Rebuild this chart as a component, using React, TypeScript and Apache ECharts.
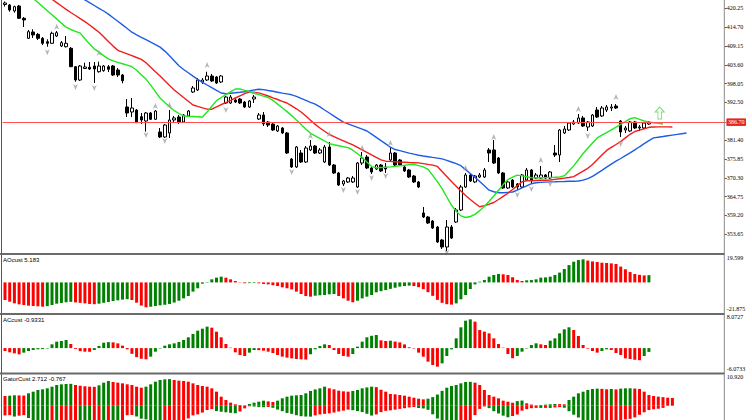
import React, { useEffect, useRef } from "react";
import * as echarts from "echarts";

// ---------- price data ----------
const opens = [421.37,421.23,419.46,420.93,417.31,411.41,413.27,412.59,411.41,410.41,409.94,412.09,409.14,408.94,408.47,403.04,399.12,402.51,402.87,403.25,401.57,401.87,403.04,403.25,402.07,400.60,391.17,389.69,390.28,388.31,387.04,389.40,387.54,383.80,382.33,383.51,387.34,388.22,386.75,388.52,395.59,396.18,398.53,399.12,400.30,400.01,398.53,392.35,392.35,393.23,393.52,392.64,391.17,393.52,387.63,388.81,386.75,386.16,384.10,384.98,383.51,375.84,373.49,377.61,374.96,378.50,379.67,377.61,374.96,379.38,374.07,371.72,368.48,369.07,369.07,367.59,374.66,376.43,373.19,372.90,374.07,373.49,375.55,377.61,375.55,373.49,372.60,370.83,369.07,359.93,358.75,357.57,355.80,351.97,349.91,355.80,357.28,360.81,367.59,371.13,369.07,370.54,370.54,378.50,378.50,376.14,371.72,367.30,369.65,368.48,367.59,369.65,372.60,370.24,370.24,371.13,370.24,377.61,377.02,383.51,384.39,386.16,386.45,387.93,385.27,385.57,390.28,388.52,390.28,390.87,391.46,387.04,384.39,384.10,386.75,384.98,384.98,386.16];
const closes = [421.82,419.75,420.73,417.31,416.81,413.36,412.39,411.41,409.94,409.94,412.89,413.06,410.12,409.94,403.04,399.12,403.25,402.96,402.37,402.37,403.25,403.25,402.28,400.60,400.60,398.92,389.40,390.87,386.54,387.34,389.40,387.54,389.99,382.33,385.86,387.34,387.93,386.75,388.81,389.99,396.77,399.12,399.12,400.30,398.83,398.24,400.30,394.11,394.11,392.64,392.35,391.17,392.94,394.11,388.81,386.16,385.86,384.39,385.57,383.51,377.61,373.49,379.38,374.96,379.08,379.67,377.61,378.50,379.38,374.07,371.72,368.18,369.36,370.24,370.24,374.66,376.14,373.19,372.01,374.07,372.31,372.90,377.61,374.07,374.07,372.31,370.54,369.07,367.59,358.75,356.98,355.51,351.38,349.91,355.80,352.56,360.81,367.59,371.13,369.36,370.83,371.13,372.60,377.61,374.66,371.72,367.30,369.07,367.59,367.59,371.13,372.60,369.65,371.13,371.13,370.24,372.01,377.02,384.39,384.68,386.45,386.75,387.93,385.57,386.75,388.81,388.22,390.87,391.17,391.17,390.87,383.80,384.98,386.75,384.98,385.27,386.45,386.70];
const lows = [420.78,419.25,418.96,417.10,414.74,411.21,411.50,410.91,409.44,408.94,409.73,411.80,408.85,408.70,402.96,398.62,398.83,402.37,402.07,398.24,401.28,401.57,401.48,400.30,400.01,398.15,388.22,388.22,386.45,386.16,383.89,387.34,387.34,382.03,382.03,382.03,386.75,386.16,386.45,388.22,395.29,395.88,397.95,398.83,398.53,397.95,398.24,392.05,392.05,392.35,392.05,390.87,390.87,392.35,387.34,385.57,385.27,384.10,383.80,383.21,377.32,373.19,373.19,374.66,374.66,378.20,377.32,377.32,374.66,373.78,371.42,367.89,367.89,368.77,368.77,367.30,374.07,372.90,371.42,372.60,372.01,371.72,375.26,373.78,373.78,372.01,370.24,368.77,367.30,358.46,356.69,355.21,351.09,349.32,348.73,352.27,356.98,360.52,367.30,369.07,368.77,370.24,370.24,374.96,374.37,371.42,367.00,367.00,367.30,366.71,367.30,369.36,368.48,369.95,369.95,369.95,369.95,376.43,374.96,383.21,384.10,385.86,386.16,385.27,384.10,385.27,387.93,388.22,389.69,389.99,390.58,382.33,383.51,383.80,384.68,384.10,384.68,385.86];
const highs = [422.26,421.52,421.02,421.23,417.69,413.86,414.07,412.97,411.80,411.12,413.36,413.56,410.62,412.09,408.85,403.25,403.54,404.22,404.43,404.43,404.52,403.54,403.54,403.54,402.66,400.89,393.52,393.82,390.58,389.40,389.69,389.69,390.28,384.98,386.16,390.28,388.52,388.81,389.10,390.28,397.36,399.71,399.71,401.57,400.89,400.30,400.60,394.41,394.70,393.82,393.82,392.94,393.23,394.70,389.40,389.69,387.04,386.45,385.86,385.27,383.80,376.14,379.67,378.50,379.67,381.44,379.97,379.08,379.97,380.85,374.37,372.01,369.65,370.54,370.83,374.96,377.91,377.02,373.78,374.37,374.37,374.66,379.38,377.91,375.84,373.78,372.90,371.13,369.36,361.70,359.05,357.87,356.10,352.27,357.87,356.39,361.40,368.18,371.72,371.42,371.13,371.72,373.19,379.08,381.44,376.43,372.01,369.36,369.95,368.77,371.42,373.19,372.90,371.72,373.78,371.42,372.31,379.97,384.68,385.57,386.75,387.34,389.10,388.52,387.04,389.10,391.17,391.46,391.76,392.05,392.05,387.34,385.57,387.04,387.04,385.86,386.75,387.04];

// Alligator lines (as drawn, already shifted forward)
const jaw = [435.96,435.19,434.40,433.63,432.84,432.07,431.28,430.51,429.71,428.95,428.18,427.39,426.62,425.82,425.06,424.26,423.50,422.73,421.90,421.08,420.25,419.46,418.54,417.48,416.42,415.36,414.30,413.21,412.42,411.71,411.00,410.26,409.56,408.82,407.64,406.29,404.78,403.31,402.22,401.25,400.27,399.30,398.42,397.65,396.85,396.09,395.29,395.09,395.23,395.35,395.50,395.68,395.91,396.18,396.41,396.30,396.03,395.79,395.53,395.26,395.03,394.76,394.29,393.70,393.14,392.55,391.99,391.20,390.28,389.40,388.49,387.57,386.69,386.19,385.66,385.16,384.63,384.09,383.15,382.21,381.24,380.29,379.32,378.64,378.29,377.94,377.58,377.26,376.96,376.73,376.52,376.31,376.11,375.87,375.46,374.96,374.46,373.87,372.72,371.57,370.42,369.21,367.94,366.65,366.18,365.91,365.88,366.00,366.12,366.68,367.30,367.94,368.56,368.83,368.95,369.04,369.10,369.13,369.18,369.21,369.27,369.30,369.36,369.62,370.04,370.72,371.63,372.51,373.43,374.34,375.19,375.99,376.82,377.64,378.52,379.44,380.35,381.24,382.06,382.27,382.47,382.68,382.89,383.09,383.30,383.50];
const teeth = [432.72,431.75,430.75,429.77,428.80,427.80,426.83,425.85,424.88,423.88,422.91,421.93,420.93,419.93,419.02,418.13,417.22,416.33,415.33,414.27,413.21,411.88,410.50,409.11,407.88,407.35,406.82,406.29,405.75,405.22,404.19,402.90,401.57,400.27,398.89,397.50,396.18,395.09,393.97,392.88,391.76,391.34,390.93,390.55,390.52,391.17,391.85,392.49,393.14,393.82,394.47,395.12,395.56,395.44,395.32,394.91,394.41,393.88,393.38,392.85,392.35,391.49,390.64,389.69,388.49,387.25,386.04,384.98,384.01,383.06,382.41,381.80,381.21,380.59,380.00,379.26,378.55,377.82,377.05,376.31,375.58,375.20,375.14,375.05,374.96,374.90,374.81,374.75,374.69,374.49,374.25,374.02,373.66,372.16,370.68,369.21,367.83,366.44,365.06,363.91,362.82,361.76,362.11,362.52,363.02,363.91,364.82,365.74,366.85,368.00,369.12,369.39,369.45,369.51,369.57,369.60,369.65,369.83,370.01,370.21,370.39,370.66,371.48,372.28,373.10,374.22,375.61,376.99,378.38,379.26,380.12,381.00,382.06,383.12,383.95,384.36,384.74,385.18,385.27,385.30,385.32,385.30,385.27];
const lips = [430.36,429.15,427.97,426.77,425.56,424.35,423.17,421.96,420.75,419.55,418.34,417.13,415.89,414.68,414.01,413.48,412.95,411.30,409.70,408.29,407.32,406.31,405.34,404.75,404.31,403.90,403.49,403.04,401.98,400.69,399.39,397.62,395.71,393.79,392.49,391.23,390.08,389.25,388.51,388.43,388.37,388.31,388.22,389.69,391.37,393.05,393.97,394.79,395.65,396.47,396.50,396.06,395.65,395.23,394.82,394.38,393.97,393.14,392.02,390.93,389.81,388.63,387.31,386.01,384.68,383.42,382.65,381.91,381.15,380.38,380.03,379.76,379.47,379.20,378.44,377.38,376.31,374.99,373.60,373.25,373.34,373.40,373.51,373.66,373.84,374.01,374.19,374.28,373.90,373.51,372.81,371.01,369.18,367.09,364.64,362.20,360.46,359.08,358.60,358.90,359.52,360.64,361.84,363.38,364.94,366.62,368.30,369.77,370.48,371.10,370.86,370.60,370.33,370.27,370.33,370.36,370.42,370.45,370.51,370.92,372.31,373.81,375.61,377.46,379.00,380.56,382.06,382.86,383.62,384.42,385.21,386.04,386.86,387.72,388.04,387.54,387.04,386.69,386.51,386.33,386.16];

// Fractal arrows
const fractalUpIdx = [11,20,32,35,43,53,65,69,76,82,98,104,114,122,130];
const fractalUpVal = [414.83,407.08,391.46,391.76,403.54,395.59,382.62,383.21,379.08,380.56,373.19,382.33,375.55,390.58,394.11];
const fractalDnIdx = [9,15,19,30,34,47,61,72,75,78,81,94,109,112,116,124,131];
const fractalDnVal = [407.29,397.06,396.77,382.92,381.15,390.28,372.01,366.71,366.12,370.24,370.83,348.29,365.23,367.00,368.48,382.62,380.26];
const signalIdx = [139];
const signalVal = [389.4];
const priceLine = 386.7;

const priceTicks = ["353.65","359.20","364.75","370.30","375.85","381.40","392.50","398.05","403.60","409.15","414.70","420.25"];

// Indicators
const aoValues = [-12.58,-13.77,-14.96,-15.67,-16.15,-16.63,-16.87,-17.1,-17.35,-17.0,-16.15,-15.2,-14.7,-14.2,-13.9,-14.3,-14.6,-15.0,-15.4,-15.6,-15.2,-14.6,-14.0,-13.3,-12.8,-12.3,-12.0,-12.6,-14.5,-16.6,-17.8,-17.4,-16.9,-16.4,-16.0,-15.4,-14.4,-13.1,-11.4,-9.7,-6.6,-4.2,-0.9,0.3,2.2,3.4,4.1,3.4,2.2,1.0,0.2,-0.6,-0.5,-0.4,-0.6,-1.1,-1.4,-2.0,-2.6,-3.5,-4.2,-5.0,-6.6,-8.3,-9.7,-10.2,-9.5,-9.2,-9.0,-8.5,-8.3,-9.7,-11.4,-13.1,-14.2,-13.1,-11.4,-10.2,-9.0,
  -7.1,-6.3,-5.5,-4.6,-3.8,-3.0,-2.6,-2.3,-2.6,-3.4,-4.8,-7.0,-9.6,-12.5,-14.6,-15.6,-15.9,-15.0,-12.1,-9.0,-4.7,-1.4,0.5,1.7,4.1,5.3,6.0,5.8,5.3,3.6,1.7,1.0,1.5,1.7,2.2,3.4,3.6,4.1,5.3,7.0,9.6,12.4,14.8,16.0,16.5,15.6,15.0,14.6,14.1,13.9,13.6,13.2,11.3,9.4,7.4,6.0,5.4,5.0,5.183];
const acValues = [-0.71,-1.03,-1.28,-1.52,-1.11,-0.71,-0.46,-0.30,-0.25,-0.1,0.92,1.57,1.73,1.98,1.00,-0.2,-0.75,-0.87,-0.9,-0.46,0.51,1.32,1.45,1.40,1.16,0.6,-0.3,-1.4,-2.2,-2.6,-2.74,-2.09,-0.87,-0.1,0.59,0.92,1.16,1.49,1.98,2.63,3.44,4.25,4.74,5.23,4.98,4.00,2.63,1.00,0.1,-1.03,-1.68,-1.93,-1.11,-0.46,-0.50,-0.63,-0.87,-1.2,-1.68,-2.09,-2.33,-2.50,-2.66,-2.74,-2.8,-1.5,-0.3,0.51,0.92,0.76,-0.46,-1.44,-1.93,-2.09,-1.44,0.35,1.57,2.63,3.0,
  3.2,1.9,1.73,1.8,1.6,1.4,0.9,0.2,-0.1,-1.11,-2.09,-3.31,-4.12,-4.53,-3.72,-1.93,-0.30,2.38,5.07,6.69,7.02,6.45,4.41,4.01,3.60,2.38,1.00,0.1,-1.44,-2.50,-1.93,-0.87,-0.1,0.76,1.16,0.92,0.76,1.81,2.38,3.60,4.58,5.07,4.41,2.95,0.76,-0.14,-0.71,-1.11,-0.71,-0.3,-0.46,-1.2,-1.68,-2.50,-2.66,-2.85,-2.95,-1.93,-0.9331];
const gatorUp = [3.40,3.51,3.63,3.60,3.55,4.33,4.91,5.50,5.73,6.08,6.66,7.25,7.48,7.60,7.65,7.25,7.0,6.8,6.66,6.60,7.13,8.06,8.65,8.30,8.06,7.83,7.48,7.25,6.66,6.31,6.66,7.48,8.41,9.00,9.23,9.30,9.00,8.76,8.65,8.41,7.83,7.25,6.9,6.66,6.08,4.91,3.16,2.00,1.06,0.48,0.25,0.13,0.60,1.06,1.41,1.76,1.5,1.3,1.76,2.58,3.16,3.51,3.63,3.75,4.33,5.15,5.7,6.08,6.66,6.08,5.73,5.26,5.03,4.91,5.15,5.50,6.08,6.4,6.66,
  6.5,5.6,4.91,4.1,3.98,3.75,3.51,3.16,2.8,2.45,2.22,2.45,3.0,3.9,5.2,6.3,6.9,7.25,7.83,8.30,8.35,8.06,7.25,5.5,3.75,3.16,2.58,1.76,1.41,1.06,1.6,1.8,0.83,0.4,0.13,0.25,0.37,0.5,0.6,0.55,0.48,2.0,3.16,4.33,4.91,5.50,5.85,5.97,5.9,5.73,5.85,5.7,5.97,6.08,6.1,6.0,5.85,4.91,3.75,3.40,3.16,3.0,2.8,2.712];
const gatorDown = [-3.4,-3.3,-3.8,-3.5,-3.3,-4.3,-5.3,-5.6,-5.9,-6.1,-6.0,-6.2,-6.1,-6.0,-5.9,-5.7,-5.8,-6.0,-6.3,-6.1,-5.9,-6.0,-5.8,-5.9,-6.1,-5.8,
  -3.33,-3.24,-3.77,-4.54,-4.80,-5.28,-5.86,-6.48,-6.39,-6.28,-6.10,-5.84,-5.45,-4.45,-3.39,-3.04,-2.4,-1.5,-1.2,-1.89,-2.12,-2.30,-2.50,-2.65,-2.03,-0.94,-0.2,-0.3,-0.50,-0.53,-0.44,-0.74,-1.36,-1.92,-2.53,-2.86,-3.33,-3.68,-3.80,-3.83,-3.39,-3.06,-2.86,-2.68,-2.39,-2.03,-1.74,-1.39,-1.56,-1.89,-2.24,-2.83,-3.45,-3.06,-2.24,-1.80,-1.62,-1.39,-1.12,-0.88,-0.62,-0.47,-0.80,-0.97,-1.44,-3.01,-4.48,-5.07,-6.04,-7.01,-7.37,-7.30,-6.45,-5.01,-3.30,-1.12,-0.27,-0.85,-1.92,-2.71,-3.48,-4.04,-3.62,-3.09,-1.74,-1.21,-0.88,-0.77,-0.78,-0.76,-0.77,-0.62,-0.50,-0.71,-1.92,-3.15,-4.13,-5.19,-5.89,-6.34,-6.45,-5.86,-5.25,-5.16,-5.10,-5.04,-4.80,-4.60,-4.10,-3.18,-2.30,-1.50,-1.24,-1.06,-0.767];

const aoRange = [-21.875, 19.599];
const aoLabels = ["-21.875", "19.599"];
const acRange = [-6.0733, 8.0727];
const acLabels = ["-6.0733", "8.0727"];
const gatorMax = 10.92;
const gatorLabel = "10.920";
const aoTitle = "AOcust 5.183";
const acTitle = "ACcust -0.9331";
const gatorTitle = "GatorCust 2.712 -0.767";

// ---------- layout ----------
const BAR = 4.7;
const NCAT = 154;
const LEFT = 2.65;
const PLOT_W = NCAT * BAR;
const AXIS_X = 724.3;
const AXIS_OFFSET = AXIS_X - (LEFT + PLOT_W);
const MAIN = { top: 0, h: 253, min: 348.14, max: 422.7 };
const AO = { top: 255, h: 58 };
const AC = { top: 315, h: 58 };
const GT = { top: 374.5, h: 45.5, pxPerUnit: 2.857 };

const GREEN = "#008000";
const RED = "#ff0000";
const FONT_AXIS = "Liberation Serif";
const FONT_TITLE = "Liberation Sans";

function colorByRise(vals: number[], first: string, absMode = false) {
  return vals.map((v, i) => {
    if (i === 0) return first;
    const a = absMode ? Math.abs(v) : v;
    const b = absMode ? Math.abs(vals[i - 1]) : vals[i - 1];
    return a > b ? GREEN : RED;
  });
}

function valAt(top: number, h: number, min: number, max: number, px: number) {
  return max - ((px - top) / h) * (max - min);
}

export default function App() {
  const ref = useRef<HTMLDivElement>(null);
  useEffect(() => {
    document.body.style.margin = "0";
    if (!ref.current) return;
    const chart = echarts.init(ref.current, undefined, { renderer: "svg" });
    const cats = Array.from({ length: NCAT }, (_, i) => String(i));
    const candles = opens.map((o, i) => [o, closes[i], lows[i], highs[i]]);
    const aoCol = colorByRise(aoValues, RED);
    const acCol = colorByRise(acValues, RED);
    const guCol = colorByRise(gatorUp, RED);
    const gdCol = colorByRise(gatorDown, RED, true);
    const gMin = gatorMax - GT.h / GT.pxPerUnit;

    const aoTopV = valAt(AO.top, AO.h, aoRange[0], aoRange[1], AO.top + 3.3);
    const aoBotV = valAt(AO.top, AO.h, aoRange[0], aoRange[1], AO.top + AO.h - 3.7);
    const acTopV = valAt(AC.top, AC.h, acRange[0], acRange[1], AC.top + 1.6);
    const acBotV = valAt(AC.top, AC.h, acRange[0], acRange[1], AC.top + AC.h - 4);
    const gtTopV = valAt(GT.top, GT.h, gMin, gatorMax, GT.top + 2);

    const labelBase = { fontSize: 6, fontFamily: FONT_AXIS, color: "#000", margin: 2.5 };
    const grids = [MAIN, AO, AC, GT].map((p) => ({ left: LEFT, width: PLOT_W, top: p.top, height: p.h }));
    const xAxes = grids.map((_, gi) => ({
      type: "category", gridIndex: gi, data: cats, boundaryGap: true, show: false,
    }));
    const subAxis = (gi: number, min: number, max: number, vals: number[], labels: string[]) => ({
      type: "value", gridIndex: gi, position: "right", min, max, offset: AXIS_OFFSET,
      axisLine: { show: false }, axisTick: { show: false }, splitLine: { show: false },
      axisLabel: {
        ...labelBase,
        customValues: vals,
        formatter: (v: number) => {
          let best = 0;
          vals.forEach((c, k) => { if (Math.abs(c - v) < Math.abs(vals[best] - v)) best = k; });
          return labels[best];
        },
      },
    });

    const option: any = {
      animation: false,
      backgroundColor: "#ffffff",
      grid: grids,
      xAxis: xAxes,
      yAxis: [
        {
          type: "value", gridIndex: 0, position: "right", min: MAIN.min, max: MAIN.max, offset: AXIS_OFFSET,
          axisLine: { show: false }, splitLine: { show: false },
          axisTick: { show: true, length: 2.5, customValues: priceTicks.map(Number), lineStyle: { color: "#555", width: 1 } },
          axisLabel: { ...labelBase, customValues: priceTicks.map(Number), formatter: (v: number) => v.toFixed(2) },
        },
        subAxis(1, aoRange[0], aoRange[1], [aoBotV, aoTopV], aoLabels),
        subAxis(2, acRange[0], acRange[1], [acBotV, acTopV], acLabels),
        subAxis(3, gMin, gatorMax, [gtTopV], [gatorLabel]),
      ],
      series: [
        {
          type: "candlestick", xAxisIndex: 0, yAxisIndex: 0, data: candles, barWidth: 3, z: 2,
          itemStyle: { color: "#ffffff", color0: "#000000", borderColor: "#000000", borderColor0: "#000000", borderWidth: 1 },
          markLine: {
            silent: true, symbol: ["none", "none"], animation: false,
            lineStyle: { color: "#ff5050", width: 1, type: "solid" },
            label: {
              show: true, position: "end", formatter: priceLine.toFixed(2), color: "#ffffff",
              backgroundColor: "#e3241f", fontSize: 6, fontFamily: FONT_AXIS, padding: [1, 1.5, 0.5, 1.5], distance: 0,
            },
            data: [{ yAxis: priceLine }],
          },
        },
        { type: "line", xAxisIndex: 0, yAxisIndex: 0, data: jaw, symbol: "none", z: 3, lineStyle: { color: "#1f5ce6", width: 1.4 } },
        { type: "line", xAxisIndex: 0, yAxisIndex: 0, data: teeth, symbol: "none", z: 3, lineStyle: { color: "#f21c1c", width: 1.4 } },
        { type: "line", xAxisIndex: 0, yAxisIndex: 0, data: lips, symbol: "none", z: 3, lineStyle: { color: "#1ee81e", width: 1.4 } },
        {
          type: "scatter", xAxisIndex: 0, yAxisIndex: 0, z: 4,
          symbol: "path://M5,0L10,10L5,7L0,10Z", symbolSize: [5, 6],
          itemStyle: { color: "#a3a3a3" },
          data: fractalUpIdx.map((ix, k) => [ix, fractalUpVal[k]]),
        },
        {
          type: "scatter", xAxisIndex: 0, yAxisIndex: 0, z: 4,
          symbol: "path://M0,0L5,3L10,0L5,10Z", symbolSize: [5, 6],
          itemStyle: { color: "#a3a3a3" },
          data: fractalDnIdx.map((ix, k) => [ix, fractalDnVal[k]]),
        },
        {
          type: "scatter", xAxisIndex: 0, yAxisIndex: 0, z: 4,
          symbol: "path://M5,0L10,5L7,5L7,12L3,12L3,5L0,5Z", symbolSize: [9, 12], symbolOffset: [1.4, 0],
          itemStyle: { color: "#ffffff", borderColor: "#5ad65a", borderWidth: 1 },
          data: signalIdx.map((ix, k) => [ix, signalVal[k]]),
        },
        {
          type: "bar", xAxisIndex: 1, yAxisIndex: 1, barWidth: 3,
          data: aoValues.map((v, i) => ({ value: v, itemStyle: { color: aoCol[i] } })),
        },
        {
          type: "bar", xAxisIndex: 2, yAxisIndex: 2, barWidth: 3,
          data: acValues.map((v, i) => ({ value: v, itemStyle: { color: acCol[i] } })),
        },
        {
          type: "bar", xAxisIndex: 3, yAxisIndex: 3, barWidth: 3, barGap: "-100%",
          data: gatorUp.map((v, i) => ({ value: v, itemStyle: { color: guCol[i] } })),
        },
        {
          type: "bar", xAxisIndex: 3, yAxisIndex: 3, barWidth: 3, barGap: "-100%",
          data: gatorDown.map((v, i) => ({ value: v, itemStyle: { color: gdCol[i] } })),
        },
      ],
      graphic: [
        { type: "line", z: 50, shape: { x1: 1.5, y1: 0, x2: 1.5, y2: 420 }, style: { stroke: "#555555", lineWidth: 1 } },
        { type: "line", z: 50, shape: { x1: AXIS_X, y1: 0, x2: AXIS_X, y2: 420 }, style: { stroke: "#8a8a8a", lineWidth: 1 } },
        ...[254, 314, 373.5].map((y) => ({
          type: "line", z: 51, shape: { x1: 0, y1: y, x2: AXIS_X, y2: y }, style: { stroke: "#6a6a6a", lineWidth: 2 },
        })),
        ...[[aoTitle, 260], [acTitle, 320], [gatorTitle, 379]].map(([t, y]) => ({
          type: "text", z: 52, x: 3, y: y as number,
          style: { text: t as string, fontSize: 6, fontFamily: FONT_TITLE, fill: "#000", verticalAlign: "middle", align: "left" },
        })),
      ],
    };
    chart.setOption(option);
    return () => chart.dispose();
  }, []);
  return <div ref={ref} style={{ width: 752, height: 420 }} />;
}
